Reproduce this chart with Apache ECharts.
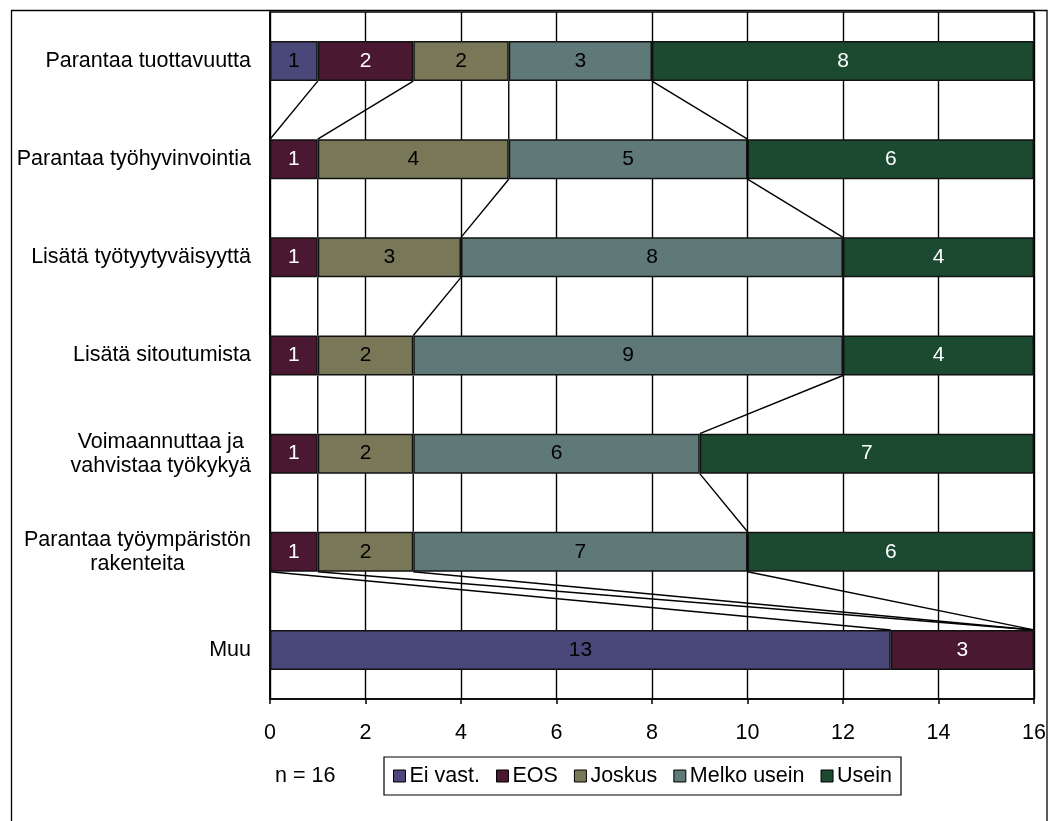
<!DOCTYPE html>
<html>
<head>
<meta charset="utf-8">
<script src="https://cdn.jsdelivr.net/npm/echarts@6/dist/echarts.min.js"></script>
<style>
  html, body { margin: 0; padding: 0; background: #fff; }
  #chart { width: 1057px; height: 821px; }
</style>
</head>
<body>
<div id="chart"></div>
<script>
// Categories, top to bottom
const categories = [
  'Parantaa tuottavuutta',
  'Parantaa työhyvinvointia',
  'Lisätä työtyytyväisyyttä',
  'Lisätä sitoutumista',
  'Voimaannuttaa ja\nvahvistaa työkykyä',
  'Parantaa työympäristön\nrakenteita',
  'Muu'
];

// Response counts per answer option (same order as categories)
const eiVast     = [1, 0, 0, 0, 0, 0, 13];
const eos        = [2, 1, 1, 1, 1, 1, 3];
const joskus     = [2, 4, 3, 2, 2, 2, 0];
const melkoUsein = [3, 5, 8, 9, 6, 7, 0];
const usein      = [8, 6, 4, 4, 7, 6, 0];

const seriesNames = ['Ei vast.', 'EOS', 'Joskus', 'Melko usein', 'Usein'];
const seriesValues = [eiVast, eos, joskus, melkoUsein, usein];

const xTicks = { min: 0, max: 16, interval: 2 };
const respondents = 16;

// Styling
const FONT = "'Liberation Sans', Arial, sans-serif";
const colors = ['#4A4878', '#4A1830', '#787858', '#5F7878', '#1C4A30'];
const labelColors = ['#000', '#fff', '#000', '#000', '#fff'];
const BAR_H = 40;

// Cumulative end of each segment, used for the connector lines between bars
const cumulative = seriesValues.map((_, s) =>
  categories.map((_, i) => {
    let sum = 0;
    for (let k = 0; k <= s; k++) sum += seriesValues[k][i];
    return sum;
  })
);

const connectorData = [];
for (let s = 0; s < seriesValues.length; s++) {
  for (let i = 0; i < categories.length - 1; i++) {
    connectorData.push([cumulative[s][i], i, cumulative[s][i + 1]]);
  }
}

const barSeries = seriesNames.map((name, s) => ({
  name: name,
  type: 'bar',
  stack: 'total',
  barWidth: BAR_H,
  z: 3,
  data: seriesValues[s].map(v => (v === 0 ? null : v)),
  itemStyle: { color: colors[s], borderColor: '#111', borderWidth: 1.5 },
  label: {
    show: true,
    position: 'inside',
    color: labelColors[s],
    fontFamily: FONT,
    fontSize: 21
  },
  emphasis: { disabled: true }
}));

const connectorSeries = {
  type: 'custom',
  silent: true,
  z: 2,
  data: connectorData,
  encode: { x: 0, y: 1 },
  renderItem: function (params, api) {
    const p1 = api.coord([api.value(0), api.value(1)]);
    const p2 = api.coord([api.value(2), api.value(1) + 1]);
    return {
      type: 'line',
      shape: {
        x1: p1[0], y1: p1[1] + BAR_H / 2,
        x2: p2[0], y2: p2[1] - BAR_H / 2
      },
      style: { stroke: '#000', lineWidth: 1.4 }
    };
  }
};

const chart = echarts.init(document.getElementById('chart'));
chart.setOption({
  animation: false,
  backgroundColor: '#fff',
  textStyle: { fontFamily: FONT },
  grid: {
    left: 270, right: 23, top: 12, bottom: 122,
    show: true, borderColor: '#000', borderWidth: 1.5
  },
  xAxis: {
    type: 'value',
    min: xTicks.min, max: xTicks.max, interval: xTicks.interval,
    axisLine: { show: true, lineStyle: { color: '#000', width: 1.5 } },
    axisTick: { show: true, length: 5, lineStyle: { color: '#000', width: 1.5 } },
    splitLine: { show: true, lineStyle: { color: '#000', width: 1.4 } },
    axisLabel: { color: '#000', fontFamily: FONT, fontSize: 21.5, margin: 23 }
  },
  yAxis: {
    type: 'category',
    inverse: true,
    data: categories,
    axisLine: { show: true, lineStyle: { color: '#000', width: 1.5 } },
    axisTick: { show: false },
    splitLine: { show: false },
    axisLabel: {
      margin: 19,
      formatter: function (value) {
        return value.split('\n').map(l => '{c|' + l + '}').join('\n');
      },
      rich: {
        c: { align: 'center', color: '#000', fontFamily: FONT, fontSize: 21.5, lineHeight: 24 }
      }
    }
  },
  legend: {
    data: seriesNames,
    left: 384, top: 757,
    orient: 'horizontal',
    padding: [8, 9, 8, 9],
    itemGap: 16,
    itemWidth: 12, itemHeight: 12,
    icon: 'rect',
    borderColor: '#000', borderWidth: 1.2, borderRadius: 0,
    itemStyle: { borderColor: '#000', borderWidth: 1 },
    textStyle: { color: '#000', fontFamily: FONT, fontSize: 21.5, padding: [0, 0, 0, -1] },
    selectedMode: false
  },
  graphic: [
    {
      type: 'rect',
      silent: true,
      shape: { x: 11.5, y: 10.5, width: 1035.5, height: 830 },
      style: { fill: 'none', stroke: '#000', lineWidth: 1.3 }
    },
    {
      type: 'text',
      left: 275, top: 765,
      style: { text: 'n = ' + respondents, fill: '#000', font: '21.5px ' + FONT }
    }
  ],
  series: barSeries.concat([connectorSeries])
});
</script>
</body>
</html>
